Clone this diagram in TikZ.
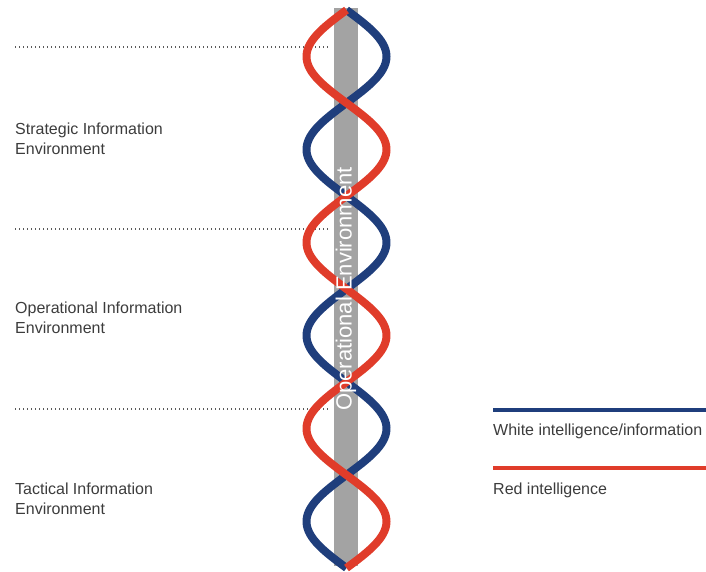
\documentclass[tikz,border=0pt]{standalone}
\usepackage{fontspec}
\setmainfont{Liberation Sans}
\definecolor{helixblue}{HTML}{1F3E7C}
\definecolor{helixred}{HTML}{E03C2A}
\definecolor{bargray}{HTML}{A3A3A3}
\definecolor{txtgray}{HTML}{3C3C3C}
\begin{document}
\begin{tikzpicture}[x=1pt,y=-1pt,
  lbl/.style={anchor=north west, align=left, text=txtgray, inner sep=0pt, font=\fontsize{16}{19.5}\selectfont},
  sep/.style={draw=txtgray!85, line width=1.3pt, dash pattern=on 1.3pt off 2.7pt},
  strand/.style={line width=8pt},
  legline/.style={line width=4pt}]
\useasboundingbox (0,0) rectangle (706,571);
% gray bar
\node (bar) [fill=bargray, minimum width=24pt, minimum height=558pt, inner sep=0pt, anchor=north] at (346,8) {};
% dotted separators
\coordinate (d1a) at (15,47); \coordinate (d1b) at (330,47);
\coordinate (d2a) at (15,229); \coordinate (d2b) at (330,229);
\coordinate (d3a) at (15,409); \coordinate (d3b) at (330,409);
\draw[sep] (d1a) -- (d1b);
\draw[sep] (d2a) -- (d2b);
\draw[sep] (d3a) -- (d3b);
% helix
\draw[strand, helixblue] plot[domain=10:568, samples=240, smooth, variable=\t] ({346.5+40*sin((\t-10)/93*180)},{\t});
\draw[strand, helixred] plot[domain=10:568, samples=240, smooth, variable=\t] ({346.5-40*sin((\t-10)/93*180)},{\t});
% bar text on top
\node (openv) [rotate=90, text=white, font=\fontsize{22}{22}\selectfont, inner sep=0pt] at (346,289) {Operational Environment};
% labels
\node (strat) [lbl] at (15,123) {Strategic Information\\Environment};
\node (oper) [lbl] at (15,302) {Operational Information\\Environment};
\node (tact) [lbl] at (15,483) {Tactical Information\\Environment};
% legend
\coordinate (lb1) at (493,410); \coordinate (lb2) at (706,410);
\coordinate (lr1) at (493,468); \coordinate (lr2) at (706,468);
\draw[legline, helixblue] (lb1) -- (lb2);
\draw[legline, helixred] (lr1) -- (lr2);
\node (legw) [lbl] at (493,424) {White intelligence/information};
\node (legr) [lbl] at (493,483) {Red intelligence};
\end{tikzpicture}
\end{document}
